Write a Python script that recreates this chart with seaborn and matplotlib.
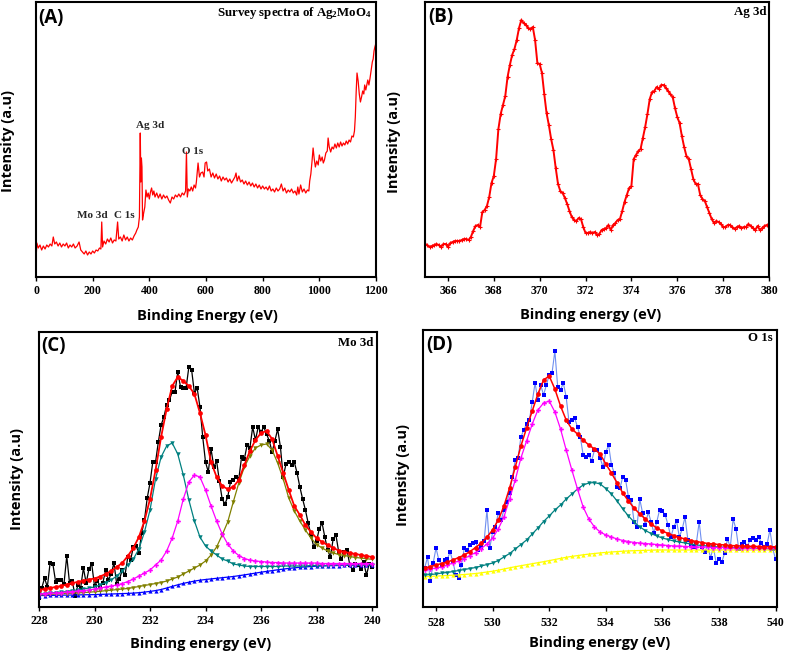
import numpy as np
import pandas as pd
import matplotlib
matplotlib.use("Agg")
import matplotlib.pyplot as plt
import seaborn as sns

sns.set_theme(style="white")
plt.rcParams['font.family'] = ['Open Sans', 'DejaVu Sans']
plt.rcParams['mathtext.default'] = 'regular'

# ---------------- Panel A: survey spectrum ----------------
survey_E = [0, 3, 8, 14, 20, 26, 32, 38, 44, 50, 56, 61, 66, 72, 78, 84, 90, 96, 102, 108,
            114, 120, 126, 132, 138, 145, 152, 158, 164, 170, 176, 182, 188, 194, 200, 206,
            212, 218, 224, 229, 232, 235, 240, 246, 252, 258, 264, 270, 276, 282, 288, 292,
            298, 304, 310, 316, 322, 328, 334, 340, 346, 352, 356, 361, 365, 368, 370, 372,
            374, 376, 380, 384, 388, 392, 396, 400, 404, 408, 412, 416, 420, 426, 432, 438,
            444, 450, 456, 462, 468, 474, 480, 486, 492, 498, 504, 510, 516, 522, 528, 531,
            534, 538, 543, 548, 553, 558, 563, 566, 572, 577, 582, 588, 593, 597, 602, 606,
            612, 618, 624, 630, 636, 642, 648, 654, 660, 666, 672, 678, 684, 690, 696, 702,
            706, 710, 716, 722, 728, 734, 740, 746, 752, 758, 764, 770, 776, 782, 788, 794,
            800, 806, 812, 818, 824, 830, 836, 842, 848, 854, 860, 866, 872, 878, 884, 890,
            896, 902, 908, 914, 920, 924, 928, 934, 940, 946, 952, 958, 963, 966, 970, 974,
            978, 982, 986, 991, 996, 1000, 1005, 1010, 1014, 1018, 1023, 1028, 1031, 1035,
            1040, 1045, 1050, 1055, 1060, 1065, 1070, 1075, 1080, 1085, 1090, 1095, 1100,
            1105, 1110, 1115, 1120, 1124, 1127, 1130, 1133, 1137, 1141, 1145, 1149, 1153,
            1157, 1160, 1164, 1168, 1171, 1175, 1179, 1183, 1187, 1190, 1193, 1196, 1199]
survey_I = [17, 34, 29, 32, 27, 31, 28, 32, 30, 33, 31, 40, 33, 35, 31, 34, 30, 33, 31, 34,
            29, 32, 30, 33, 29, 31, 35, 27, 25, 23, 26, 22, 25, 23, 26, 24,
            27, 26, 29, 28, 55, 30, 36, 33, 38, 35, 39, 34, 37, 36, 55, 38,
            40, 36, 42, 37, 40, 36, 39, 37, 41, 44, 47, 50, 60, 144, 95, 119,
            110, 57, 64, 70, 87, 80, 84, 78, 85, 89, 82, 86, 80, 84, 79, 83,
            78, 82, 79, 81, 77, 74, 80, 78, 82, 80, 83, 80, 84, 82, 86, 125,
            80, 88, 86, 90, 86, 92, 89, 95, 114, 100, 104, 105, 100, 114, 115, 106,
            108, 100, 104, 99, 103, 98, 101, 96, 100, 97, 99, 95, 98, 94, 97, 100,
            104, 96, 101, 95, 97, 93, 96, 92, 95, 91, 94, 90, 93, 89, 92, 88,
            91, 88, 90, 87, 91, 86, 88, 85, 89, 86, 88, 93, 86, 89, 84, 87,
            85, 88, 84, 86, 82, 90, 83, 92, 85, 88, 84, 87, 86, 96, 103, 115,
            129, 118, 110, 116, 112, 122, 116, 120, 114, 117, 124, 126, 139, 130,
            125, 130, 128, 133, 129, 134, 130, 135, 131, 134, 132, 136, 133,
            137, 135, 141, 140, 146, 160, 185, 204, 196, 183, 175, 180, 186,
            183, 192, 187, 193, 197, 192, 199, 207, 215, 218, 226, 230, 233]
survey_labels = ["Mo 3d", "C 1s", "Ag 3d", "O 1s"]
survey_label_E = [198, 311, 403, 552]
survey_label_I = [62, 62, 151, 125]

# ---------------- Panel B: Ag 3d ----------------
ag_E = np.round(np.arange(365.0, 380.001, 0.1), 1)
ag_I = [33, 32, 30, 31, 32, 33, 32, 30, 33, 33,
        30, 34, 35, 36, 36, 36, 37, 38, 38, 37,
        40, 46, 51, 52, 50, 65, 67, 71, 80, 94,
        101, 118, 148, 163, 172, 181, 200, 212, 222, 228,
        237, 249, 257, 254, 252, 249, 248, 250, 237, 214,
        213, 204, 183, 164, 152, 138, 127, 109, 93, 86,
        84, 79, 73, 66, 60, 57, 56, 59, 58, 50,
        44, 44, 45, 44, 45, 42, 43, 47, 48, 49,
        52, 47, 52, 54, 57, 58, 66, 75, 82, 89,
        91, 118, 122, 126, 128, 139, 150, 163, 178, 185,
        186, 190, 188, 192, 192, 189, 186, 183, 180, 169,
        160, 154, 141, 130, 121, 118, 108, 98, 93, 93,
        82, 78, 76, 70, 64, 58, 54, 56, 55, 53,
        50, 50, 52, 52, 50, 48, 50, 51, 49, 50,
        50, 53, 51, 49, 47, 51, 47, 49, 51, 52, 52]

# ---------------- Panel C: Mo 3d ----------------
mo_E = np.round(np.arange(228.0, 240.001, 0.1), 1)
mo_raw = [9, 19, 29, 20, 44, 43, 25, 27, 27, 23,
          51, 24, 26, 11, 22, 19, 39, 24, 38, 43,
          21, 26, 21, 24, 37, 27, 33, 44, 23, 28,
          37, 32, 50, 47, 60, 61, 54, 74, 87, 109,
          124, 145, 145, 165, 182, 190, 202, 207, 215, 215,
          235, 220, 219, 219, 240, 237, 214, 219, 200, 170,
          145, 135, 158, 140, 146, 126, 108, 103, 110, 125,
          127, 130, 128, 150, 148, 162, 159, 180, 167, 180,
          175, 180, 173, 166, 155, 166, 178, 160, 130, 143,
          145, 142, 145, 134, 120, 108, 97, 84, 72, 60,
          66, 78, 84, 70, 57, 50, 68, 72, 55, 48,
          55, 57, 42, 37, 43, 42, 38, 45, 32, 43, 40]
mo_fit_E = np.round(np.arange(228.0, 240.001, 0.2), 1)
mo_envelope = [17, 18, 19, 20, 21, 22.5, 24, 25, 26.5, 27.5,
               28.5, 30.5, 33, 36, 40, 44, 51, 59, 70, 86,
               108, 137, 170, 198, 221, 230, 226, 221, 213, 194,
               172, 145, 130, 121, 118, 120, 127, 142, 156, 167,
               174, 176, 168, 151, 134, 117, 101, 92, 82, 75,
               69, 65, 62, 59, 56.5, 55, 54, 53, 52, 51, 50]
mo_p1 = [13, 13.5, 14, 14.5, 15, 15.5, 16.5, 17, 18, 19,
         20, 22, 24.5, 27, 31, 36, 42, 48, 58, 75,
         97, 128, 150, 161, 164, 153, 132, 107, 86, 70,
         61, 56, 52, 48, 46, 43, 42, 41, 40.5, 40.5,
         40.5, 40.5, 40.5, 40.5, 41, 41, 41, 41, 41, 41.5,
         41.5, 41.5, 41.5, 42, 42, 42, 42, 42, 42, 42, 42]
mo_p2 = [13, 13.5, 14, 14, 14.5, 15, 15.5, 16, 16.5, 17,
         18, 19, 20, 21, 22, 23.5, 25.5, 28, 31, 34,
         37, 42, 47, 56, 69, 86, 108, 125, 132, 130,
         117, 101, 86, 73, 63, 56, 51.5, 48.5, 47, 46,
         45.5, 45, 44.5, 44.5, 44, 44, 44, 44, 44, 44,
         44, 43.5, 43.5, 43.5, 43.5, 43.5, 43.5, 43.5, 43.5, 43.5, 43.5]
mo_p3 = [12, 12.3, 12.6, 12.9, 13.2, 13.5, 13.8, 14.1, 14.4, 14.8,
         15.2, 15.7, 16.3, 16.8, 17.4, 18, 18.5, 19.5, 20.5, 21.5,
         22.5, 23.5, 24.5, 26, 28, 30, 33, 36, 39, 42,
         46, 52, 60, 72, 85, 105, 124, 140, 151, 159,
         162, 163, 157, 144, 128, 109, 96, 86, 77, 69,
         62.5, 59, 56, 54, 52.5, 51.5, 50.5, 49.5, 49, 48.3, 47.7]
mo_bg = [11.5, 11.5, 11.6, 11.7, 11.8, 11.9, 12, 12.1, 12.2, 12.3,
         12.4, 12.6, 12.8, 13, 13.2, 13.4, 13.6, 13.9, 14.3, 14.9,
         15.6, 16.4, 17.5, 19, 20.6, 22.2, 23.6, 24.8, 25.9, 26.8,
         27.5, 28.1, 28.7, 29.3, 29.9, 30.5, 31.3, 32.1, 33, 33.9,
         34.8, 35.6, 36.4, 37.2, 37.9, 38.6, 39.2, 39.7, 40.1, 40.5,
         40.8, 41, 41.2, 41.4, 41.5, 41.6, 41.7, 41.8, 41.9, 42, 42]

# ---------------- Panel D: O 1s ----------------
o_E = np.round(np.arange(527.6, 540.001, 0.1), 1)
o_raw = [39, 50, 26, 44, 59, 47, 42, 47, 48, 55,
         45, 32, 29, 42, 59, 57, 62, 64, 65, 57,
         60, 66, 97, 59, 75, 80, 94, 87, 97, 105,
         114, 130, 147, 149, 170, 177, 183, 187, 205, 224,
         207, 222, 212, 222, 232, 234, 256, 220, 217, 224,
         210, 185, 187, 189, 180, 170, 152, 150, 152, 146,
         157, 157, 149, 140, 155, 162, 142, 134, 120, 119,
         130, 127, 110, 107, 85, 80, 108, 94, 82, 95,
         85, 74, 85, 97, 96, 92, 82, 70, 80, 86,
         70, 78, 90, 67, 62, 60, 64, 85, 60, 55,
         62, 49, 60, 44, 48, 45, 54, 68, 60, 88,
         78, 58, 63, 65, 61, 67, 69, 67, 70, 64,
         60, 63, 77, 58, 48]
o_fit_E = np.round(np.arange(527.6, 540.001, 0.2), 1)
o_envelope = [39, 40.5, 42, 43.5, 45, 47, 49.5, 52, 55.5, 59.5,
              64, 70, 77, 87, 101, 119, 140, 161, 179, 196,
              213, 227, 231, 218, 201, 187, 178, 173, 167, 162,
              158, 153, 143, 134, 124, 114, 106, 99, 93, 88,
              83, 79, 76, 73.5, 71.5, 69.5, 68, 66.5, 65.5, 64.5,
              63.5, 63, 62.5, 62, 61.5, 61.2, 61, 60.8, 60.6, 60.5,
              60.4, 60.3, 60.2]
o_p1 = [37, 38, 39, 40, 42, 44, 46, 48.5, 51.5, 54.5,
        58.5, 63, 69, 78, 90, 108, 127, 149, 166, 183,
        197, 204, 206, 195, 178, 157, 137, 118, 100, 88,
        80, 75, 72, 70, 68, 66.5, 65.5, 64.5, 64, 63.5,
        63, 62.5, 62, 61.5, 61, 61, 60.5, 60.5, 60, 60,
        60, 59.5, 59.5, 59.5, 59, 59, 59, 59, 59, 58.8,
        58.8, 58.7, 58.7]
o_p2 = [32, 32.5, 33, 34, 34.5, 35.5, 36.5, 37.5, 38.5, 39.5,
        41, 42.5, 44, 46.5, 50, 53.5, 58, 62.5, 67, 73,
        79, 85.5, 91, 97, 102, 108, 113, 118, 122, 124,
        124.5, 123, 118.5, 113, 106, 98, 91, 85, 80, 76.5,
        73.5, 71, 69, 67.5, 66, 65, 64, 63, 62, 61.5,
        61, 60.5, 60, 59.8, 59.6, 59.4, 59.2, 59, 58.8, 58.6,
        58.5, 58.4, 58.3]
o_bg = [30.3, 30.6, 30.9, 31.2, 31.5, 31.8, 32.1, 32.5, 33, 33.5,
        34.2, 35, 35.8, 36.8, 38, 39.2, 40.3, 41.3, 42.3, 43.3,
        44.3, 45.3, 46.4, 47.5, 48.6, 49.7, 50.6, 51.4, 52.2, 52.9,
        53.5, 54.1, 54.6, 55, 55.4, 55.8, 56.1, 56.3, 56.5, 56.7,
        56.8, 57, 57, 57, 57, 57, 57, 57, 57, 57,
        57, 57, 57, 57, 57, 57, 57, 57, 57, 57,
        57, 57, 57]

# ---------------- figure ----------------
W, H = 787, 654
fig = plt.figure(figsize=(W / 100, H / 100), dpi=100)


def add_ax(l, t, r, b):
    return fig.add_axes([l / W, 1 - b / H, (r - l) / W, (b - t) / H])


axA = add_ax(36, 2, 376, 277)
axB = add_ax(425, 2, 769, 277)
axC = add_ax(39, 332, 377, 607)
axD = add_ax(423, 330, 777, 607)

SERIF = ['Liberation Serif', 'DejaVu Serif']
SANS = ['Open Sans', 'DejaVu Sans']


def style(ax, xlim, ylim, xticks, xlabel, letter, title, xl_pos, yl_pos,
          letter_y, title_pos, pad=3):
    ax.set_xlim(*xlim)
    ax.set_ylim(*ylim)
    ax.set_xticks(xticks)
    ax.set_xticklabels([str(t) for t in xticks])
    ax.set_yticks([])
    ax.tick_params(axis='x', direction='out', length=3, width=1, pad=pad,
                   labelsize=8.5, colors='black', bottom=True)
    for lab in ax.get_xticklabels():
        lab.set_fontfamily(SERIF)
        lab.set_fontweight('bold')
    for s in ax.spines.values():
        s.set_visible(True)
        s.set_color('black')
        s.set_linewidth(1.5)
    ax.set_xlabel(xlabel, fontsize=10.5, fontweight='bold', family=SANS, color='black',
                  va='center')
    ax.set_ylabel("Intensity (a.u)", fontsize=10.5, fontweight='bold', family=SANS,
                  color='black', va='center')
    ax.xaxis.set_label_coords(*xl_pos)
    ax.yaxis.set_label_coords(*yl_pos)
    ax.text(0.008, letter_y, letter, transform=ax.transAxes, ha='left', va='center',
            fontsize=13.5, fontweight='bold', family=SANS, color='black')
    ax.text(title_pos[0], title_pos[1], title, transform=ax.transAxes, ha='right',
            va='center', fontsize=9.3, fontweight='bold', family=SERIF, color='black')


# Panel A
sns.lineplot(x=survey_E, y=survey_I, ax=axA, color='#ff0000', linewidth=0.9,
             estimator=None, sort=False)
for lab, e, i in zip(survey_labels, survey_label_E, survey_label_I):
    axA.text(e, i, lab, ha='center', va='center', fontsize=8, fontweight='bold',
             family=SERIF)
style(axA, (0, 1200), (0, 275), [0, 200, 400, 600, 800, 1000, 1200],
      "Binding Energy (eV)", "(A)", "Survey spectra of Ag$_2$MoO$_4$",
      (0.504, -0.142), (-0.082, 0.495), 0.94, (0.988, 0.961))

# Panel B
sns.lineplot(x=ag_E, y=ag_I, ax=axB, color='#ff0000', linewidth=1.4, marker='+',
             markersize=3.5, markeredgewidth=0.8, markeredgecolor='#ff0000',
             estimator=None, sort=False)
style(axB, (365, 380), (0, 275), [366, 368, 370, 372, 374, 376, 378, 380],
      "Binding energy (eV)", "(B)", "Ag 3d",
      (0.482, -0.138), (-0.09, 0.49), 0.944, (0.993, 0.965))

# Panel C
sns.lineplot(x=mo_E, y=mo_raw, ax=axC, color='black', linewidth=0.9, marker='s',
             markersize=2.6, markeredgewidth=0, estimator=None, sort=False)
comp_style = [
    (mo_bg, '#0000ff', '^', 3.0, 0.9),
    (mo_p3, '#808000', 'v', 3.2, 0.9),
    (mo_p1, '#008080', 'v', 3.2, 0.9),
    (mo_p2, '#ff00ff', 'P', 3.4, 0.9),
    (mo_envelope, '#ff0000', 'o', 3.4, 1.3),
]
for vals, col, mk, ms, lw in comp_style:
    sns.lineplot(x=mo_fit_E, y=vals, ax=axC, color=col, linewidth=lw, marker=mk,
                 markersize=ms, markeredgewidth=0, markerfacecolor=col,
                 estimator=None, sort=False)
style(axC, (228, 240.18), (0, 275), [228, 230, 232, 234, 236, 238, 240],
      "Binding energy (eV)", "(C)", "Mo 3d",
      (0.479, -0.135), (-0.064, 0.465), 0.949, (0.988, 0.96))

# Panel D
sns.lineplot(x=o_E, y=o_raw, ax=axD, color='#6f8ff0', linewidth=0.8, marker='s',
             markersize=2.6, markeredgewidth=0, markerfacecolor='#0000ff',
             estimator=None, sort=False)
comp_style_D = [
    (o_bg, '#ffff00', '^', 3.0, 0.9),
    (o_p2, '#008080', 'v', 3.2, 0.9),
    (o_p1, '#ff00ff', 'P', 3.4, 0.9),
    (o_envelope, '#ff0000', 'o', 3.4, 1.1),
]
for vals, col, mk, ms, lw in comp_style_D:
    sns.lineplot(x=o_fit_E, y=vals, ax=axD, color=col, linewidth=lw, marker=mk,
                 markersize=ms, markeredgewidth=0, markerfacecolor=col,
                 estimator=None, sort=False)
style(axD, (527.54, 540.05), (0, 277), [528, 530, 532, 534, 536, 538, 540],
      "Binding energy (eV)", "(D)", "O 1s",
      (0.499, -0.13), (-0.056, 0.476), 0.946, (0.989, 0.971), pad=4.5)

fig.savefig("out.png", dpi=100)
